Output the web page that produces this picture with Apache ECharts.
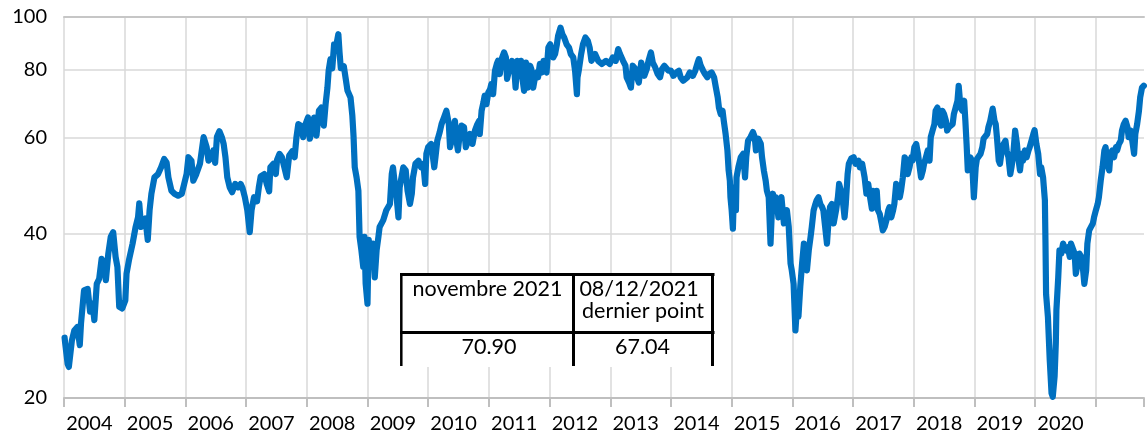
<!DOCTYPE html>
<html>
<head>
<meta charset="utf-8">
<script src="https://cdn.jsdelivr.net/npm/echarts@6/dist/echarts.min.js"></script>
<style>
  html, body { margin: 0; padding: 0; background: #ffffff; }
  #chart { width: 1147px; height: 435px; }
</style>
</head>
<body>
<div id="chart"></div>
<script>
// Index level, dates as decimal years, split into four periods.
const yearsA = [2004.01,2004.02,2004.06,2004.08,2004.13,2004.17,2004.22,2004.26,2004.28,2004.33,2004.39,2004.43,2004.47,2004.50,2004.54,2004.58,2004.62,2004.66,2004.69,2004.73,2004.77,2004.81,2004.85,2004.88,2004.91,2004.96,
  2005.01,2005.03,2005.07,2005.10,2005.13,2005.18,2005.22,2005.24,2005.27,2005.31,2005.34,2005.38,2005.41,2005.44,2005.49,2005.55,2005.60,2005.65,2005.69,2005.72,2005.77,2005.82,2005.88,2005.94,2005.98,
  2006.02,2006.05,2006.10,2006.13,2006.18,2006.24,2006.27,2006.30,2006.35,2006.38,2006.43,2006.46,2006.49,2006.52,2006.56,2006.60,2006.63,2006.66,2006.69,2006.73,2006.77,2006.82,2006.87,2006.91,2006.94,2006.98,
  2007.02,2007.06,2007.09,2007.13,2007.18,2007.21,2007.24,2007.30,2007.34,2007.38,2007.40,2007.45,2007.49,2007.51,2007.55,2007.59,2007.63,2007.67,2007.71,2007.76,2007.80,2007.83,2007.86,2007.90,2007.94,2007.98,
  2008.02,2008.05,2008.08,2008.12,2008.16,2008.20,2008.24,2008.28,2008.31,2008.34,2008.36,2008.39,2008.42,2008.45,2008.48,2008.52,2008.54,2008.56,2008.61,2008.64,2008.67,2008.72,2008.75,2008.77];
const levelA = [25.8,25.2,23.1,22.8,25.5,26.6,27.0,25.0,27.4,31.5,31.7,28.8,29.8,27.8,32.4,33.1,36.0,35.3,32.9,36.8,39.5,40.3,36.3,34.8,29.4,29.2,
  30.2,33.8,35.8,36.0,38.4,41.2,42.9,45.5,41.2,42.1,42.7,39.0,44.2,47.4,50.8,51.5,53.0,54.9,54.1,50.8,48.0,47.4,47.0,47.4,49.4,
  51.5,55.3,54.5,50.1,51.5,53.8,56.9,60.2,57.7,54.5,55.3,56.9,54.0,60.3,61.7,60.2,58.5,55.3,50.8,48.7,47.7,49.4,48.7,49.4,48.6,46.7,
  44.2,40.3,44.2,46.7,45.9,48.7,51.0,51.5,49.4,47.9,53.0,53.8,51.5,54.7,56.1,55.3,53.0,50.8,55.7,56.7,55.3,60.2,63.6,63.2,60.2,63.6,
  65.4,59.8,61.7,65.4,60.6,67.3,68.2,63.2,69.2,74.2,79.7,83.7,80.5,89.1,88.0,93.0,86.0,80.6,81.2,77.2,73.3,71.2,66.0,60.5];

const yearsB = [2008.79,2008.82,2008.85,2008.87,2008.90,2008.93,2008.95,2008.97,
  2009.00,2009.02,2009.05,2009.09,2009.12,2009.15,2009.18,2009.20,2009.26,2009.31,2009.37,2009.40,2009.42,2009.45,2009.48,2009.51,2009.53,2009.56,2009.59,2009.63,2009.66,2009.70,2009.73,2009.75,2009.79,2009.84,2009.88,2009.92,2009.95,2009.97,
  2010.00,2010.05,2010.10,2010.12,2010.15,2010.19,2010.22,2010.26,2010.30,2010.34,2010.36,2010.40,2010.44,2010.47,2010.49,2010.52,2010.55,2010.59,2010.62,2010.66,2010.69,2010.73,2010.77,2010.81,2010.84,2010.85,2010.88,2010.91,2010.93,2010.96,2010.99,
  2011.02,2011.04,2011.07,2011.10,2011.13,2011.15,2011.18,2011.21,2011.25,2011.28,2011.30,2011.35,2011.38,2011.42,2011.44,2011.47,2011.49,2011.53,2011.55,2011.58,2011.61,2011.64,2011.68,2011.70,2011.73,2011.76,2011.79,2011.81,2011.84,2011.87,2011.90,2011.92,2011.95,2011.98,
  2012.01,2012.03,2012.06,2012.09,2012.12,2012.14,2012.18,2012.21,2012.24,2012.28,2012.32,2012.35,2012.39,2012.42,2012.45,2012.46,2012.48,2012.52,2012.55,2012.59,2012.63,2012.66,2012.69,2012.75,2012.80,2012.86];
const levelB = [53.0,50.8,48.0,39.5,37.3,34.8,39.5,32.4,
  29.8,39.0,36.3,38.4,33.3,37.3,39.5,41.2,42.4,44.2,45.4,51.5,53.0,49.4,46.7,42.9,48.7,50.8,53.0,52.3,48.0,45.4,47.4,50.8,53.8,54.5,53.0,53.8,49.4,56.1,
  57.7,58.5,53.0,55.3,59.3,61.5,63.6,65.4,67.3,63.6,57.7,60.2,64.5,58.9,56.9,61.0,63.2,62.8,57.7,59.3,61.0,58.5,61.9,63.6,64.5,61.0,67.3,69.7,71.7,69.2,72.7,
  73.7,75.3,72.2,79.7,82.0,83.1,78.6,83.7,86.1,84.3,77.0,81.4,83.1,79.7,74.2,83.1,80.2,83.1,77.5,73.2,82.5,74.2,81.4,80.2,74.2,77.5,79.1,77.5,82.0,79.1,83.1,80.8,79.1,87.9,
  89.1,86.7,84.3,85.5,89.1,92.3,95.6,93.0,91.7,89.1,87.9,85.5,84.3,79.7,72.2,77.5,79.7,85.5,89.1,91.7,90.4,87.9,83.1,85.5,83.1,82.0];

const yearsC = [2012.88,2012.93,2012.99,
  2013.04,2013.09,2013.13,2013.16,2013.21,2013.25,2013.27,2013.31,2013.34,2013.37,2013.42,2013.44,2013.47,2013.51,2013.54,2013.56,2013.60,2013.63,2013.67,2013.70,2013.74,2013.78,2013.82,2013.85,2013.89,2013.92,2013.96,
  2014.00,2014.04,2014.07,2014.09,2014.13,2014.16,2014.20,2014.23,2014.27,2014.31,2014.36,2014.40,2014.44,2014.46,2014.49,2014.53,2014.56,2014.60,2014.63,2014.67,2014.71,2014.74,2014.77,2014.79,2014.82,2014.85,2014.87,2014.90,2014.93,2014.95,2014.97,2014.98,
  2015.00,2015.02,2015.04,2015.07,2015.08,2015.11,2015.15,2015.19,2015.22,2015.24,2015.27,2015.31,2015.35,2015.38,2015.40,2015.44,2015.48,2015.50,2015.53,2015.56,2015.58,2015.61,2015.64,2015.66,2015.68,2015.71,2015.73,2015.77,2015.79,2015.82,2015.86,2015.89,2015.91,2015.94,2015.97,2015.99,
  2016.02,2016.05,2016.08,2016.10,2016.13,2016.16,2016.19,2016.21,2016.24,2016.27,2016.30,2016.32,2016.35,2016.38,2016.40,2016.43,2016.46,2016.49,2016.51,2016.54,2016.57,2016.60,2016.62,2016.65,2016.68,2016.72,2016.75,2016.77,2016.80,2016.83,2016.86,2016.88,2016.91,2016.93,2016.97,
  2017.01,2017.04,2017.09,2017.11,2017.15,2017.19,2017.22,2017.25,2017.28,2017.31];
const levelC = [81.8,83.1,82.0,
  84.3,83.1,87.3,85.5,83.1,81.4,77.5,75.8,74.2,81.4,80.2,77.5,75.8,82.5,82.0,78.0,80.2,83.1,86.1,82.5,80.8,78.6,77.5,80.2,81.4,82.0,79.7,
  79.7,78.0,77.5,79.1,79.7,77.5,76.4,75.8,77.5,79.1,78.0,79.7,82.5,83.7,81.4,79.7,78.6,77.5,78.6,79.1,77.5,74.2,71.2,68.2,66.3,67.3,64.5,61.0,56.9,52.3,50.1,46.7,
  44.2,40.9,48.7,44.2,50.8,53.0,55.3,56.1,50.8,55.3,59.3,60.2,61.5,60.2,56.9,59.8,58.5,55.3,52.3,50.1,48.0,46.7,38.4,43.5,47.4,44.8,46.7,42.9,45.4,46.7,41.8,43.5,44.2,41.2,35.3,34.3,
  32.4,26.6,29.8,28.2,32.0,35.3,38.4,36.3,34.3,37.3,39.5,41.2,44.2,45.4,46.1,46.7,45.4,44.8,44.2,41.2,38.4,42.9,44.8,45.4,41.8,44.2,46.7,49.4,48.0,46.1,42.9,45.4,51.5,53.8,55.0,
  55.3,53.8,54.5,53.0,53.8,50.8,47.4,49.4,46.7,44.5];

const yearsD = [2017.33,2017.36,2017.39,2017.41,2017.44,2017.47,2017.49,2017.52,2017.55,2017.58,2017.60,2017.63,2017.66,2017.68,2017.71,2017.74,2017.77,2017.79,2017.82,2017.85,2017.88,2017.90,2017.93,2017.96,2017.98,
  2018.01,2018.04,2018.07,2018.09,2018.12,2018.15,2018.17,2018.20,2018.23,2018.26,2018.28,2018.31,2018.34,2018.36,2018.39,2018.42,2018.45,2018.47,2018.50,2018.53,2018.55,2018.58,2018.61,2018.64,2018.66,2018.69,2018.72,2018.74,2018.77,2018.80,2018.83,2018.85,2018.87,2018.89,2018.92,2018.93,2018.96,2018.99,
  2019.02,2019.04,2019.07,2019.10,2019.13,2019.15,2019.18,2019.21,2019.23,2019.26,2019.30,2019.33,2019.35,2019.37,2019.40,2019.42,2019.45,2019.48,2019.51,2019.53,2019.56,2019.59,2019.61,2019.64,2019.67,2019.70,2019.72,2019.75,2019.78,2019.80,2019.83,2019.86,2019.89,2019.91,2019.94,2019.97,2019.99,
  2020.02,2020.05,2020.08,2020.10,2020.13,2020.16,2020.17,2020.18,2020.21,2020.24,2020.27,2020.29,2020.32,2020.34,2020.35,2020.38,2020.40,2020.43,2020.46,2020.48,2020.51,2020.54,2020.57,2020.59,2020.62,2020.65,2020.67,2020.70,2020.73,2020.76,2020.78,2020.81,2020.84,2020.86,2020.89,2020.92,2020.95,2020.97,
  2021.00,2021.03,2021.05,2021.08,2021.11,2021.14,2021.16,2021.19,2021.22,2021.24,2021.27,2021.30,2021.33,2021.35,2021.38,2021.41,2021.43,2021.46,2021.49,2021.52,2021.54,2021.57,2021.60,2021.63,2021.65,2021.68,2021.71,2021.73,2021.76,2021.79];
const levelD = [48.0,44.8,48.0,44.2,43.5,41.8,40.6,41.2,42.4,44.2,44.8,42.9,44.2,45.4,49.4,48.7,46.7,48.0,50.8,55.3,54.5,51.5,53.0,55.3,54.5,
  57.7,58.5,56.1,53.8,50.8,52.3,53.8,55.3,56.9,54.5,60.2,61.9,63.6,67.3,68.2,64.5,63.2,67.3,66.3,64.5,61.9,62.8,62.8,63.6,66.3,68.2,70.2,74.8,68.2,67.3,70.2,64.5,58.5,52.3,53.0,55.3,54.5,46.7,
  53.0,54.9,54.5,56.1,57.7,59.8,60.2,61.0,62.8,64.5,67.9,64.5,63.6,60.2,54.5,53.8,56.9,58.5,59.3,56.9,55.3,51.5,53.0,56.1,61.9,58.5,55.3,52.3,56.1,54.5,56.9,55.3,56.9,57.7,59.3,61.0,62.0,
  58.5,56.1,51.5,53.0,50.8,46.1,38.4,31.0,28.2,23.5,20.4,20.1,21.9,25.2,29.0,33.3,37.3,36.8,38.4,37.8,37.3,37.8,36.3,38.4,38.4,36.8,33.8,35.3,36.8,36.3,35.3,32.4,34.3,38.4,40.6,41.2,41.8,42.9,
  44.2,45.4,46.7,50.1,53.0,56.9,57.7,53.8,52.3,56.1,56.9,55.3,57.7,56.9,58.5,59.3,61.9,63.6,64.5,62.8,60.2,61.9,59.3,56.1,61.0,63.6,67.3,71.2,74.2,74.8];

// Axis ticks and the inset summary table.
const yTicks = [20, 40, 60, 80, 100];
const xStart = 2004;
const xEnd = 2021.793;
const tableHeads = ['novembre 2021', '08/12/2021', 'dernier point'];
const tableValues = ['70.90', '67.04'];

const points = [];
[[yearsA, levelA], [yearsB, levelB], [yearsC, levelC], [yearsD, levelD]].forEach(function (pair) {
  pair[0].forEach(function (t, i) { points.push([t, pair[1][i]]); });
});

const FONT = 'Lato';
const chart = echarts.init(document.getElementById('chart'), null, { renderer: 'canvas' });

function textEl(str, x, y) {
  return {
    type: 'text', z: 20,
    style: { text: str, x: x, y: y, fill: '#000000', font: '21.5px ' + FONT, align: 'center', verticalAlign: 'middle' }
  };
}
function lineEl(x1, y1, x2, y2, w) {
  return { type: 'line', z: 20, shape: { x1: x1, y1: y1, x2: x2, y2: y2 }, style: { stroke: '#000000', lineWidth: w } };
}

// Year labels sit mid-year, only for years that are complete on the axis.
function yearLabel(v) {
  const isMid = Math.abs((v % 1) - 0.5) < 1e-6;
  return isMid && v + 0.5 <= xEnd ? String(Math.floor(v)) : '';
}

chart.setOption({
  animation: false,
  grid: { left: 64, right: 0, top: 17, bottom: 37, containLabel: false },
  xAxis: [
    {
      type: 'value', min: xStart, max: xEnd, interval: 1, position: 'bottom',
      axisLine: { show: true, lineStyle: { color: '#bfbfbf', width: 2 } },
      axisTick: { show: true, length: 9, lineStyle: { color: '#bfbfbf', width: 2 } },
      axisLabel: { show: false },
      splitLine: { show: true, showMaxLine: false, lineStyle: { color: '#d9d9d9', width: 1.5 } }
    },
    {
      type: 'value', min: xStart, max: xEnd, interval: 0.5, position: 'bottom',
      axisLine: { show: false }, axisTick: { show: false }, splitLine: { show: false },
      axisLabel: {
        show: true, margin: 16, fontFamily: FONT, fontSize: 20, color: '#000000', padding: [0, 10, 0, 0],
        formatter: yearLabel
      }
    },
    {
      type: 'value', min: xStart, max: xEnd, position: 'top',
      axisLine: { show: true, lineStyle: { color: '#c6c6c6', width: 2 } },
      axisTick: { show: false }, axisLabel: { show: false }, splitLine: { show: false }
    }
  ],
  yAxis: {
    type: 'log', logBase: 10, min: 20, max: 100,
    axisLine: { show: false },
    axisTick: { show: false, customValues: yTicks },
    axisLabel: {
      customValues: yTicks, margin: 17, fontFamily: FONT, fontSize: 20, color: '#000000',
      formatter: function (v) { return String(Math.round(v)); }
    },
    splitLine: { show: true, lineStyle: { color: '#d9d9d9', width: 1.5 } }
  },
  series: [{
    type: 'line', xAxisIndex: 0, yAxisIndex: 0, data: points,
    showSymbol: false, clip: true, silent: true,
    lineStyle: { color: '#0070c0', width: 6.2, cap: 'round', join: 'round' }
  }],
  graphic: [{
    type: 'group', z: 20,
    children: [
      { type: 'rect', z: 19, shape: { x: 400, y: 273, width: 315, height: 94 }, style: { fill: '#ffffff' } },
      lineEl(400, 274.5, 714.5, 274.5, 3),
      lineEl(400, 332.5, 714.5, 332.5, 3),
      lineEl(401.3, 273, 401.3, 366, 2.5),
      lineEl(573.5, 273, 573.5, 366, 3),
      lineEl(712.5, 273, 712.5, 366, 3),
      textEl(tableHeads[0], 487.5, 289),
      textEl(tableHeads[1], 639, 289),
      textEl(tableHeads[2], 643, 311),
      textEl(tableValues[0], 489, 347.5),
      textEl(tableValues[1], 642.5, 347.5)
    ]
  }]
});
</script>
</body>
</html>
